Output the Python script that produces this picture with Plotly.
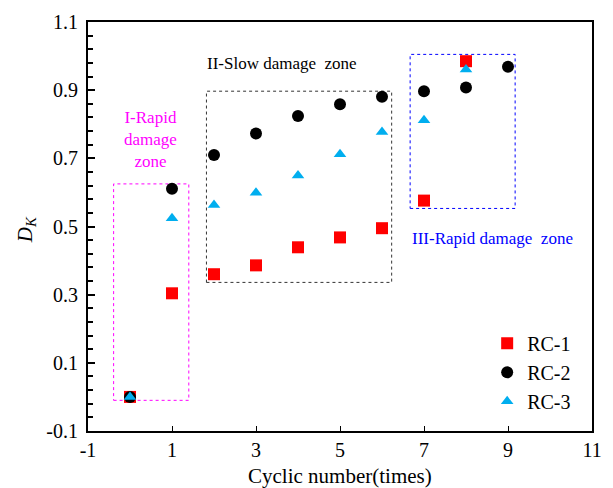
import plotly.graph_objects as go

# ---- data ----
cycles_rc1 = [0, 1, 2, 3, 4, 5, 6, 7, 8]
dk_rc1 = [0.0, 0.304, 0.360, 0.386, 0.439, 0.468, 0.495, 0.576, 0.985]

cycles_rc2 = [0, 1, 2, 3, 4, 5, 6, 7, 8, 9]
dk_rc2 = [0.0, 0.611, 0.710, 0.773, 0.824, 0.859, 0.881, 0.897, 0.908, 0.969]

cycles_rc3 = [0, 1, 2, 3, 4, 5, 6, 7, 8]
dk_rc3 = [0.0, 0.524, 0.563, 0.599, 0.650, 0.712, 0.777, 0.812, 0.961]

series_names = ["RC-1", "RC-2", "RC-3"]

# zone boxes [x0, x1, y0, y1]
zone_I = [-0.39, 1.40, -0.01, 0.625]
zone_II = [1.82, 6.23, 0.336, 0.897]
zone_III = [6.67, 9.17, 0.553, 1.005]

zone_texts = ["I-Rapid<br>damage<br>zone", "II-Slow damage \u00a0zone", "III-Rapid damage \u00a0zone"]
zone_text_x = [0.49, 3.61, 8.62]
zone_text_y = [0.754, 0.978, 0.466]

x_ticks = [-1, 1, 3, 5, 7, 9, 11]
y_ticks = [-0.1, 0.1, 0.3, 0.5, 0.7, 0.9, 1.1]

FONT = "Liberation Serif, Times New Roman, serif"

fig = go.Figure()
fig.add_trace(go.Scatter(x=cycles_rc1, y=dk_rc1, mode="markers", name=series_names[0],
                         marker=dict(symbol="square", size=12, color="#FF0000")))
fig.add_trace(go.Scatter(x=cycles_rc2, y=dk_rc2, mode="markers", name=series_names[1],
                         marker=dict(symbol="circle", size=12, color="#000000")))
fig.add_trace(go.Scatter(x=cycles_rc3, y=dk_rc3, mode="markers", name=series_names[2],
                         marker=dict(symbol="triangle-up", size=11, color="#00AEEF")))

zones = [(zone_I, "#FF00FF"), (zone_II, "#333333"), (zone_III, "#0000FF")]
for z, c in zones:
    fig.add_shape(type="rect", xref="x", yref="y", x0=z[0], x1=z[1], y0=z[2], y1=z[3],
                  line=dict(color=c, width=1, dash="dot"), layer="below")

text_colors = ["#FF00FF", "#000000", "#0000FF"]
for t, x, y, c in zip(zone_texts, zone_text_x, zone_text_y, text_colors):
    fig.add_annotation(x=x, y=y, xref="x", yref="y", text=t, showarrow=False,
                       font=dict(family=FONT, size=17, color=c), align="center")

# axis titles
fig.add_annotation(x=0.5, y=-0.111, xref="paper", yref="paper", text="Cyclic number(times)",
                   showarrow=False, font=dict(family=FONT, size=21, color="black"),
                   xanchor="center", yanchor="middle")
fig.add_annotation(x=-0.123, y=0.491, xref="paper", yref="paper",
                   text="<i>D</i><sub><i>K</i></sub>", textangle=-90,
                   showarrow=False, font=dict(family=FONT, size=21, color="black"),
                   xanchor="center", yanchor="middle")

fig.update_layout(
    width=613, height=488,
    margin=dict(l=88, r=11, t=18, b=57),
    paper_bgcolor="white", plot_bgcolor="white",
    font=dict(family=FONT, size=20, color="black"),
    showlegend=True,
    legend=dict(x=0.792, y=0.262, xanchor="left", yanchor="top",
                bgcolor="rgba(0,0,0,0)", font=dict(family=FONT, size=20, color="black"),
                itemwidth=30, tracegroupgap=0),
    xaxis=dict(range=[-1, 11], tickvals=x_ticks, ticktext=[str(v) for v in x_ticks],
               ticks="inside", ticklen=5, tickwidth=1, tickcolor="black",
               showline=True, linewidth=2, linecolor="black", mirror=True,
               showgrid=False, zeroline=False, tickfont=dict(size=20)),
    yaxis=dict(range=[-0.1, 1.1], tickvals=y_ticks, ticktext=[f"{v:.1f}" for v in y_ticks],
               ticks="inside", ticklen=7, tickwidth=1.5, tickcolor="black",
               minor=dict(dtick=0.04, tick0=-0.1, ticks="inside", ticklen=5,
                          tickwidth=1.5, tickcolor="black", showgrid=False),
               showline=True, linewidth=2, linecolor="black", mirror=True,
               showgrid=False, zeroline=False, tickfont=dict(size=20), ticklabelstandoff=4),
)

fig.write_html("out.html")
